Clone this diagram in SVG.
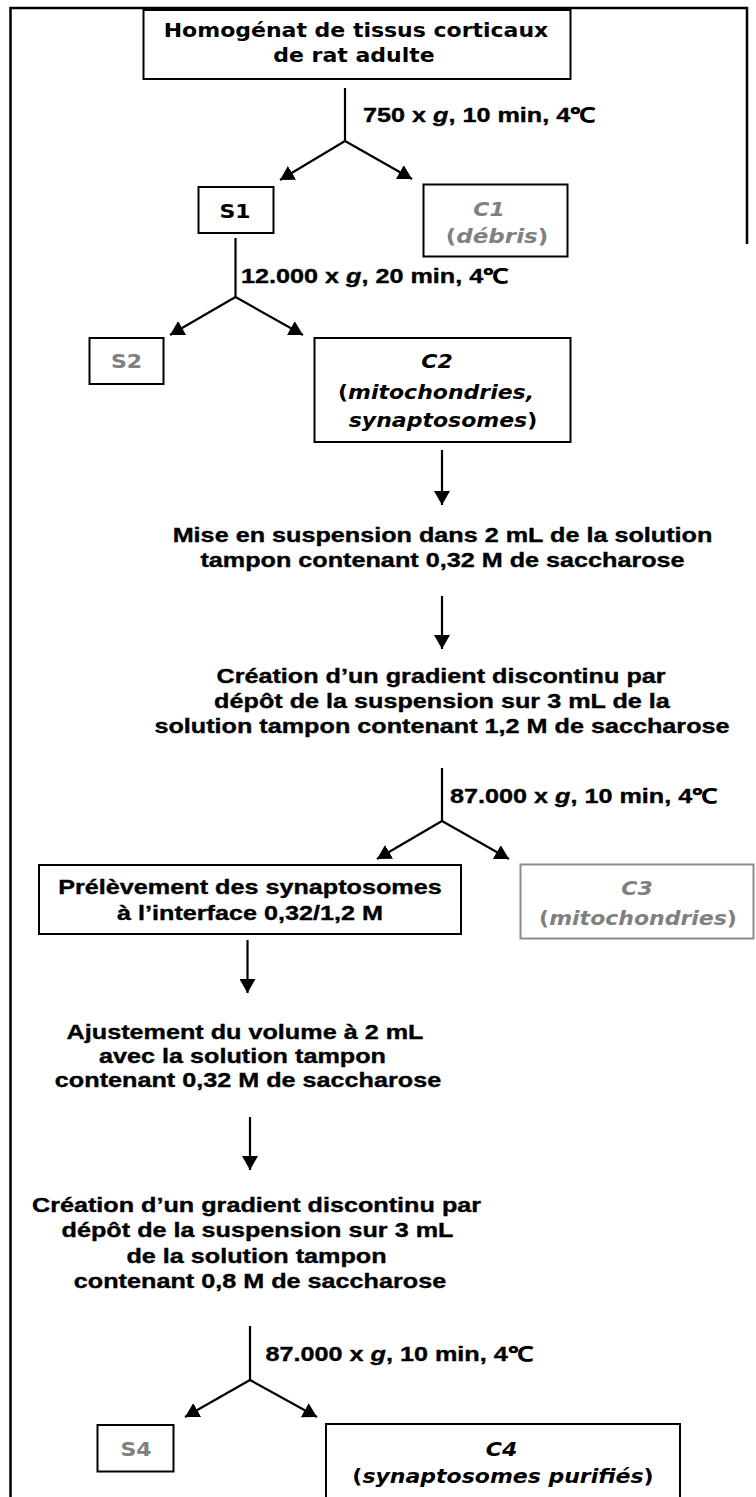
<svg xmlns="http://www.w3.org/2000/svg" width="756" height="1497" viewBox="0 0 756 1497">
<style>
.box{fill:#fff;stroke:#000;stroke-width:2}
.gbox{fill:#fff;stroke:#8c8c8c;stroke-width:2}
.c{font-family:"Comic Sans MS","DejaVu Sans",sans-serif;font-weight:bold;font-size:20px;text-anchor:middle;fill:#000}
.cg{fill:#808080}
.a{font-family:"Liberation Sans",Arial,sans-serif;font-weight:bold;font-size:20px;text-anchor:middle;fill:#000;stroke:#000;stroke-width:0.35}
.l{font-family:"Liberation Sans",Arial,sans-serif;font-weight:bold;font-size:20px;text-anchor:start;fill:#000;stroke:#000;stroke-width:0.35}
.i{font-style:italic}
.ln{fill:none;stroke:#000;stroke-width:2.2}
.ar{fill:none;stroke:#000;stroke-width:2.2;marker-end:url(#ah)}
</style>
<defs>
<marker id="ah" markerUnits="userSpaceOnUse" markerWidth="16" markerHeight="16" refX="14" refY="8" orient="auto">
<path d="M0,0 L14,8 L0,16 Z" fill="#000"/>
</marker>
</defs>
<rect width="756" height="1497" fill="#fff"/>
<path d="M10.5,1497 V8 H747 V244" fill="none" stroke="#000" stroke-width="2.5"/>

<g id="connectors">
<path class="ln" d="M345,88 V141"/>
<path class="ar" d="M345,141 L280,180"/>
<path class="ar" d="M345,141 L412,179"/>
<path class="ln" d="M235.5,238 V297"/>
<path class="ar" d="M235.5,297 L170,335"/>
<path class="ar" d="M235.5,297 L303,335"/>
<path class="ar" d="M442,450 V505"/>
<path class="ar" d="M442,596 V649"/>
<path class="ln" d="M442,768 V821"/>
<path class="ar" d="M442,821 L377,859"/>
<path class="ar" d="M442,821 L509,859"/>
<path class="ar" d="M247.5,940 V993"/>
<path class="ar" d="M250,1117 V1170"/>
<path class="ln" d="M250,1326 V1380"/>
<path class="ar" d="M250,1380 L185,1417"/>
<path class="ar" d="M250,1380 L317,1417"/>
</g>

<g id="label-750">
<text class="l" transform="translate(363 0) scale(1.26 1)" y="122.5">750 x <tspan class="i">g</tspan>, 10 min, 4℃</text>
</g>
<g id="label-12000">
<text class="l" transform="translate(241 0) scale(1.26 1)" y="283.5">12.000 x <tspan class="i">g</tspan>, 20 min, 4℃</text>
</g>
<g id="label-87000a">
<text class="l" transform="translate(450 0) scale(1.26 1)" y="803">87.000 x <tspan class="i">g</tspan>, 10 min, 4℃</text>
</g>
<g id="label-87000b">
<text class="l" transform="translate(265.5 0) scale(1.26 1)" y="1361.5">87.000 x <tspan class="i">g</tspan>, 10 min, 4℃</text>
</g>

<g id="homogenat">
<rect class="box" x="143.5" y="10" width="427" height="69"/>
<text class="c" transform="translate(356 0) scale(1.1 1)" y="37">Homogénat de tissus corticaux</text>
<text class="c" transform="translate(354 0) scale(1.1 1)" y="62">de rat adulte</text>
</g>

<g id="S1">
<rect class="box" x="198.5" y="187" width="75" height="46"/>
<text class="c" transform="translate(235 0) scale(1.1 1)" y="218">S1</text>
</g>

<g id="C1">
<rect class="box" x="423.5" y="184.5" width="144" height="72"/>
<text class="c cg" transform="translate(489 0) scale(1.1 1)" y="216.5"><tspan class="i">C1</tspan></text>
<text class="c cg" transform="translate(497 0) scale(1.15 1)" y="243">(<tspan class="i">débris</tspan>)</text>
</g>

<g id="S2">
<rect class="box" x="89.5" y="338" width="74" height="46"/>
<text class="c cg" transform="translate(126.5 0) scale(1.1 1)" y="368.5">S2</text>
</g>

<g id="C2">
<rect class="box" x="314.5" y="338" width="256" height="104"/>
<text class="c i" transform="translate(437 0) scale(1.1 1)" y="368">C2</text>
<text class="c" transform="translate(436 0) scale(1.1 1)" y="399">(<tspan class="i">mitochondries,</tspan></text>
<text class="c" transform="translate(443 0) scale(1.1 1)" y="427"><tspan class="i">synaptosomes</tspan>)</text>
</g>

<g id="suspension">
<text class="a" transform="translate(442.5 0) scale(1.26 1)" y="542">Mise en suspension dans 2 mL de la solution</text>
<text class="a" transform="translate(442.5 0) scale(1.26 1)" y="567">tampon contenant 0,32 M de saccharose</text>
</g>

<g id="gradient1">
<text class="a" transform="translate(441 0) scale(1.26 1)" y="683">Création d’un gradient discontinu par</text>
<text class="a" transform="translate(442 0) scale(1.26 1)" y="708">dépôt de la suspension sur 3 mL de la</text>
<text class="a" transform="translate(442 0) scale(1.26 1)" y="733">solution tampon contenant 1,2 M de saccharose</text>
</g>

<g id="prelevement">
<rect class="box" x="39" y="865" width="422" height="69"/>
<text class="a" transform="translate(250 0) scale(1.26 1)" y="894">Prélèvement des synaptosomes</text>
<text class="a" transform="translate(250 0) scale(1.26 1)" y="920.5">à l’interface 0,32/1,2 M</text>
</g>

<g id="C3">
<rect class="gbox" x="520.5" y="864.5" width="233" height="74"/>
<text class="c cg i" transform="translate(637 0) scale(1.1 1)" y="895">C3</text>
<text class="c cg" transform="translate(638 0) scale(1.1 1)" y="925">(<tspan class="i">mitochondries</tspan>)</text>
</g>

<g id="ajustement">
<text class="a" transform="translate(245 0) scale(1.26 1)" y="1039">Ajustement du volume à 2 mL</text>
<text class="a" transform="translate(242.5 0) scale(1.26 1)" y="1063">avec la solution tampon</text>
<text class="a" transform="translate(248 0) scale(1.26 1)" y="1087">contenant 0,32 M de saccharose</text>
</g>

<g id="gradient2">
<text class="a" transform="translate(256.5 0) scale(1.26 1)" y="1212.5">Création d’un gradient discontinu par</text>
<text class="a" transform="translate(257.5 0) scale(1.26 1)" y="1237.5">dépôt de la suspension sur 3 mL</text>
<text class="a" transform="translate(256.5 0) scale(1.26 1)" y="1263">de la solution tampon</text>
<text class="a" transform="translate(260 0) scale(1.26 1)" y="1288">contenant 0,8 M de saccharose</text>
</g>

<g id="S4">
<rect class="box" x="97.5" y="1425" width="76" height="46.5"/>
<text class="c cg" transform="translate(136 0) scale(1.1 1)" y="1456.5">S4</text>
</g>

<g id="C4">
<rect class="box" x="326" y="1424" width="354" height="90"/>
<text class="c i" transform="translate(501.5 0) scale(1.1 1)" y="1456.5">C4</text>
<text class="c" transform="translate(503 0) scale(1.1 1)" y="1483.5">(<tspan class="i">synaptosomes purifiés</tspan>)</text>
</g>
</svg>
